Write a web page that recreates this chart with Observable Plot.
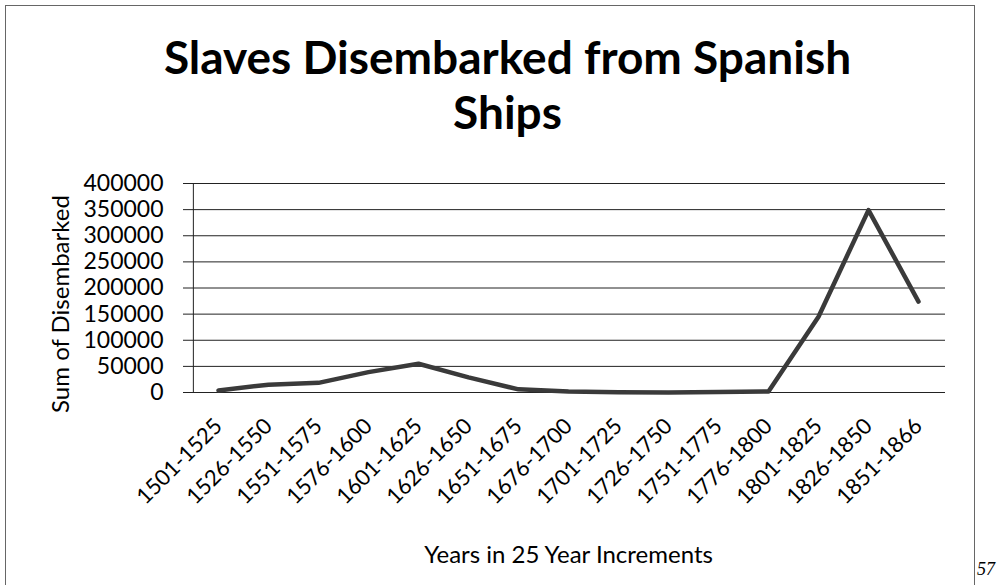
<!DOCTYPE html>
<html>
<head>
<meta charset="utf-8">
<script src="https://cdn.jsdelivr.net/npm/d3@7"></script>
<script src="https://cdn.jsdelivr.net/npm/@observablehq/plot@0.6"></script>
<style>
  html, body { margin: 0; padding: 0; background: #fff; }
  #page { position: relative; width: 997px; height: 585px; overflow: hidden; background: #fff; }
  #frame { position: absolute; left: 5px; top: 5px; width: 970px; height: 640px; border: 1px solid #666; box-sizing: border-box; }
  #title { position: absolute; left: 110px; width: 795px; top: 29px; text-align: center; font-family: Lato, "Open Sans", sans-serif; font-weight: 700; font-size: 46px; line-height: 55px; color: #000; }
  #pagenum { position: absolute; left: 977px; top: 559px; font-family: "Liberation Serif", serif; font-style: italic; font-size: 18px; color: #000; }
  #chart { position: absolute; left: 0; top: 0; }
</style>
</head>
<body>
<div id="page">
  <div id="frame"></div>
  <div id="chart"></div>
  <div id="title">Slaves Disembarked from Spanish<br>Ships</div>
  <div id="pagenum">57</div>
</div>
<script>
const periods = ["1501-1525","1526-1550","1551-1575","1576-1600","1601-1625","1626-1650","1651-1675","1676-1700","1701-1725","1726-1750","1751-1775","1776-1800","1801-1825","1826-1850","1851-1866"];
const disembarked = [4000, 15000, 18500, 39000, 55000, 29000, 6000, 2000, 500, 0, 1000, 2000, 145000, 349000, 174000];
const yTicks = [0, 50000, 100000, 150000, 200000, 250000, 300000, 350000, 400000];

const data = periods.map((p, i) => ({period: p, value: disembarked[i]}));

const W = 997, ML = 191, MR = 52;
const step = (W - ML - MR) / periods.length;

const chart = Plot.plot({
  width: W,
  height: 585,
  marginLeft: ML,
  marginRight: MR,
  marginTop: 183,
  marginBottom: 193,
  style: {fontFamily: "Lato, 'Open Sans', sans-serif", background: "transparent", color: "#000"},
  x: {type: "point", domain: periods, padding: 0.5},
  y: {domain: [0, 400000]},
  marks: [
    Plot.ruleY(yTicks, {stroke: "#222", strokeWidth: 1}),
    Plot.ruleX([periods[0]], {stroke: "#222", strokeWidth: 1, y1: 0, y2: 400000, dx: -step / 2}),
    Plot.axisY({ticks: yTicks, tickFormat: d => String(d), tickSize: 8, tickPadding: 20, fontSize: 23, stroke: "#222",
      label: "Sum of Disembarked", labelAnchor: "center", labelArrow: "none", labelOffset: 140}),
    Plot.axisX({tickRotate: -45, tickSize: 0, tickPadding: 30, fontSize: 22,
      label: "Years in 25 Year Increments", labelAnchor: "center", labelArrow: "none", labelOffset: 170}),
    Plot.line(data, {x: "period", y: "value", stroke: "#3a3a3a", strokeWidth: 4.5, strokeLinejoin: "round"})
  ]
});
chart.querySelectorAll("g[aria-label='x-axis label'] text, g[aria-label='y-axis label'] text").forEach(t => t.setAttribute("font-size", "24"));
chart.querySelectorAll("g[aria-label='y-axis label']").forEach(g => {
  const tr = g.getAttribute("transform") || "";
  g.setAttribute("transform", (tr + " translate(0,16)").trim());
});
document.getElementById("chart").appendChild(chart);
</script>
</body>
</html>
